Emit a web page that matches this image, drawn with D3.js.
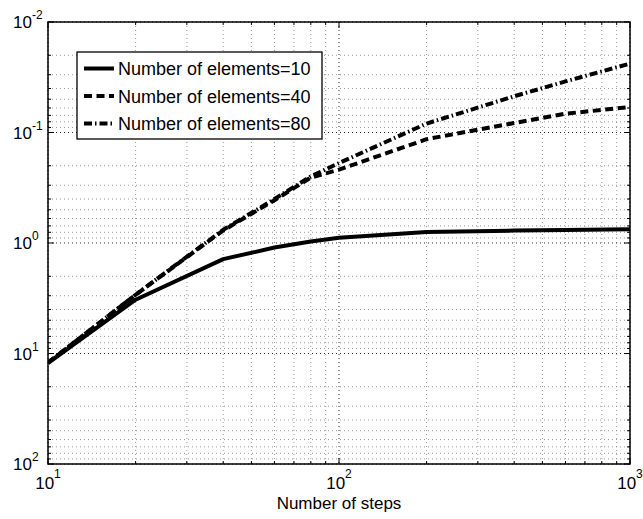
<!DOCTYPE html>
<html>
<head>
<meta charset="utf-8">
<script src="https://cdn.jsdelivr.net/npm/d3@7/dist/d3.min.js"></script>
<style>
  html, body { margin: 0; padding: 0; background: #fff; }
  svg { display: block; font-family: "Liberation Sans", Arial, Helvetica, sans-serif; }
</style>
</head>
<body>
<svg id="chart" width="643" height="519"></svg>
<script>
// Number of steps at which the error was evaluated
const steps = [10, 20, 40, 60, 80, 100, 200, 400, 600, 1000];

// Error for each mesh size
const err10 = [12.2, 3.26, 1.40, 1.10, 0.97, 0.895, 0.795, 0.772, 0.762, 0.752];
const err40 = [12.1, 2.94, 0.77, 0.41, 0.256, 0.217, 0.115, 0.082, 0.0676, 0.0588];
const err80 = [12.1, 2.94, 0.76, 0.40, 0.25, 0.189, 0.083, 0.047, 0.0345, 0.0238];

const seriesNames = ["Number of elements=10", "Number of elements=40", "Number of elements=80"];
const seriesDash = [null, "8,4.5", "8,3,1.5,3"];

const xTickValues = [10, 100, 1000];
const yTickValues = [0.01, 0.1, 1, 10, 100];

const svg = d3.select("#chart");
const plot = { left: 48, right: 630, top: 22, bottom: 464 };

const x = d3.scaleLog().domain([10, 1000]).range([plot.left, plot.right]);
// log axis running downward (small errors at the top)
const y = d3.scaleLog().domain([0.01, 100]).range([plot.top, plot.bottom]);

const g = svg.append("g");

// minor / major grid
const xMinor = x.ticks().filter(v => !xTickValues.includes(v));
const yMinor = y.ticks().filter(v => !yTickValues.some(t => Math.abs(t - v) / t < 1e-9));

g.append("g").selectAll("line").data(xMinor).join("line")
  .attr("x1", d => x(d)).attr("x2", d => x(d))
  .attr("y1", plot.top).attr("y2", plot.bottom)
  .attr("stroke", "#999").attr("stroke-width", 1).attr("stroke-dasharray", "1,3");
g.append("g").selectAll("line").data(yMinor).join("line")
  .attr("y1", d => y(d)).attr("y2", d => y(d))
  .attr("x1", plot.left).attr("x2", plot.right)
  .attr("stroke", "#999").attr("stroke-width", 1).attr("stroke-dasharray", "1,3");
g.append("g").selectAll("line").data(xTickValues).join("line")
  .attr("x1", d => x(d)).attr("x2", d => x(d))
  .attr("y1", plot.top).attr("y2", plot.bottom)
  .attr("stroke", "#333").attr("stroke-width", 1).attr("stroke-dasharray", "1,3");
g.append("g").selectAll("line").data(yTickValues).join("line")
  .attr("y1", d => y(d)).attr("y2", d => y(d))
  .attr("x1", plot.left).attr("x2", plot.right)
  .attr("stroke", "#333").attr("stroke-width", 1).attr("stroke-dasharray", "1,3");

// tick marks on all four sides, pointing inward
const ticks = g.append("g").attr("stroke", "#000").attr("stroke-width", 1);
function xTick(v, len) {
  ticks.append("line").attr("x1", x(v)).attr("x2", x(v)).attr("y1", plot.bottom).attr("y2", plot.bottom - len);
  ticks.append("line").attr("x1", x(v)).attr("x2", x(v)).attr("y1", plot.top).attr("y2", plot.top + len);
}
function yTick(v, len) {
  ticks.append("line").attr("y1", y(v)).attr("y2", y(v)).attr("x1", plot.left).attr("x2", plot.left + len);
  ticks.append("line").attr("y1", y(v)).attr("y2", y(v)).attr("x1", plot.right).attr("x2", plot.right - len);
}
xMinor.forEach(v => xTick(v, 3));
xTickValues.forEach(v => xTick(v, 6));
yMinor.forEach(v => yTick(v, 3));
yTickValues.forEach(v => yTick(v, 6));

// curves
const clipId = "plotclip";
svg.append("defs").append("clipPath").attr("id", clipId).append("rect")
  .attr("x", plot.left).attr("y", plot.top)
  .attr("width", plot.right - plot.left).attr("height", plot.bottom - plot.top);

const line = d3.line().x(d => x(d[0])).y(d => y(d[1]));
const allSeries = [err10, err40, err80];
const curves = g.append("g").attr("clip-path", `url(#${clipId})`);
allSeries.forEach((vals, i) => {
  curves.append("path")
    .datum(steps.map((s, k) => [s, vals[k]]))
    .attr("d", line)
    .attr("fill", "none")
    .attr("stroke", "#000")
    .attr("stroke-width", 4)
    .attr("stroke-linejoin", "round")
    .attr("stroke-dasharray", seriesDash[i]);
});

// axes box
g.append("rect")
  .attr("x", plot.left).attr("y", plot.top)
  .attr("width", plot.right - plot.left).attr("height", plot.bottom - plot.top)
  .attr("fill", "none").attr("stroke", "#000").attr("stroke-width", 1.5);

// tick labels as powers of ten
function exponent(v) { return Math.round(Math.log10(v)); }

const yLabels = svg.append("g").attr("font-size", 17).attr("fill", "#000");
yTickValues.forEach(v => {
  const t = yLabels.append("text").attr("x", 13).attr("y", y(v) + 6.3).attr("text-anchor", "start");
  t.append("tspan").text("10");
  t.append("tspan").attr("dy", -9).attr("font-size", 12).text(String(exponent(v)));
});

const xLabels = svg.append("g").attr("font-size", 17).attr("fill", "#000");
xTickValues.forEach(v => {
  const t = xLabels.append("text").attr("x", x(v)).attr("y", 489).attr("text-anchor", "middle");
  t.append("tspan").text("10");
  t.append("tspan").attr("dy", -11).attr("font-size", 12).text(String(exponent(v)));
});

svg.append("text")
  .attr("x", (plot.left + plot.right) / 2).attr("y", 509)
  .attr("text-anchor", "middle").attr("font-size", 17)
  .text("Number of steps");

// legend
const leg = svg.append("g");
leg.append("rect")
  .attr("x", 77).attr("y", 52).attr("width", 245).attr("height", 87)
  .attr("fill", "#fff").attr("stroke", "#000").attr("stroke-width", 1.3);
seriesNames.forEach((name, i) => {
  const cy = 68.5 + i * 27.5;
  leg.append("line")
    .attr("x1", 84).attr("x2", 114).attr("y1", cy).attr("y2", cy)
    .attr("stroke", "#000").attr("stroke-width", 4)
    .attr("stroke-dasharray", seriesDash[i]);
  leg.append("text")
    .attr("x", 118).attr("y", cy + 6.5)
    .attr("font-size", 18)
    .text(name);
});
</script>
</body>
</html>
